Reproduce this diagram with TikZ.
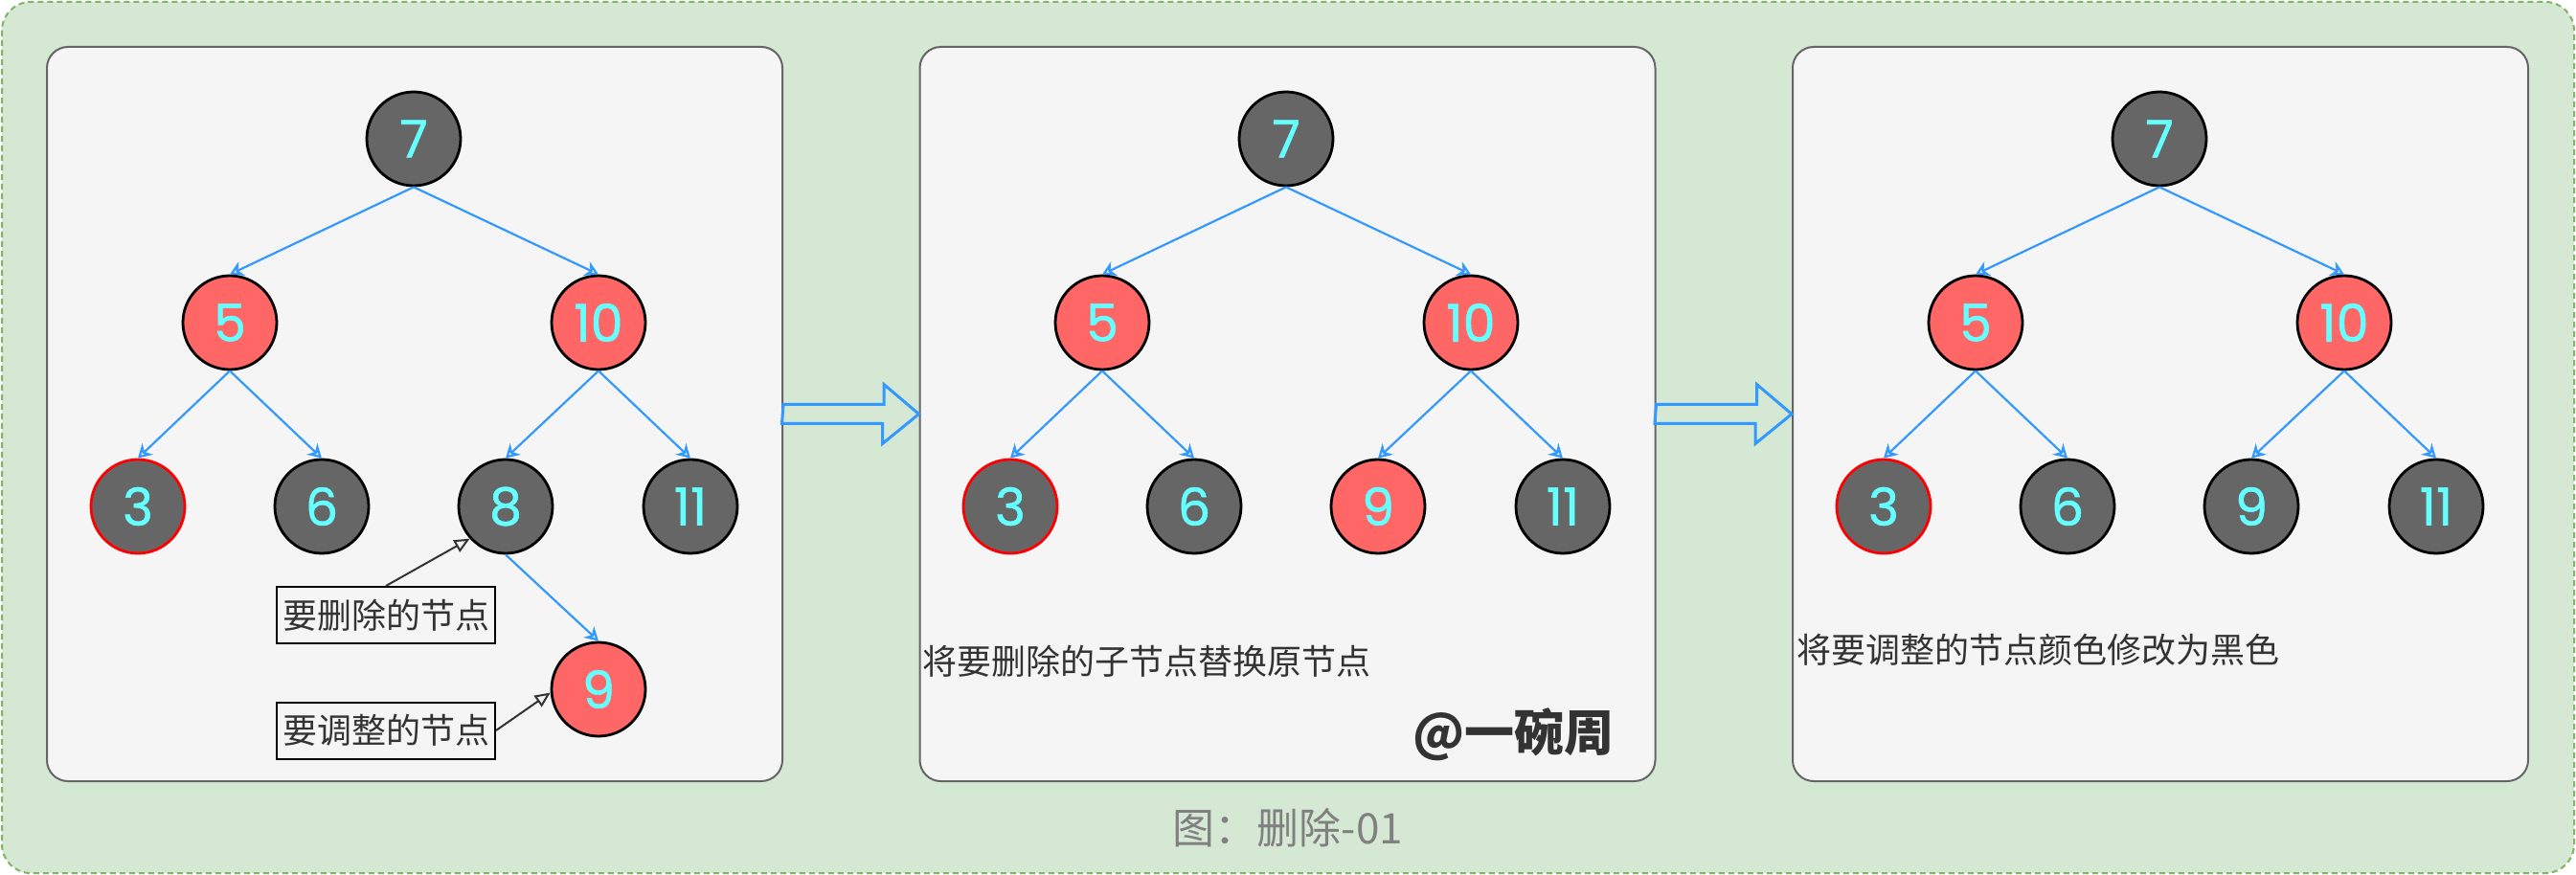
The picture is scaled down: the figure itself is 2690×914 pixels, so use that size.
\documentclass[tikz,border=0pt]{standalone}
\usepackage{fontspec}
\usepackage{tikz}
\usetikzlibrary{arrows.meta,calc}
\newfontfamily\cjk{Noto Sans CJK SC}
\newfontfamily\numfont{Poppins}[FakeBold=1]
\definecolor{BG}{RGB}{213, 232, 212}
\definecolor{BGline}{RGB}{130, 179, 102}
\definecolor{P}{RGB}{245, 245, 245}
\definecolor{Pline}{RGB}{102, 102, 102}
\definecolor{R}{RGB}{255, 102, 102}
\definecolor{K}{RGB}{102, 102, 102}
\definecolor{C}{RGB}{102, 255, 255}
\definecolor{B}{RGB}{51, 153, 255}
\definecolor{T}{RGB}{51, 51, 51}
\definecolor{Cap}{RGB}{128, 128, 128}
\tikzset{
  panel/.style={draw=Pline, line width=1pt, fill=P, rounded corners=11pt,
    minimum width=384pt, minimum height=383.5pt},
  rbblack/.style={circle, draw=black, line width=1.4pt, fill=K, minimum size=49pt,
    inner sep=0pt, text=C, font=\numfont\fontsize{27}{27}\selectfont},
  rbred/.style={rbblack, fill=R},
  tedge/.style={draw=B, line width=1.1pt, -{Stealth[open, length=7pt, width=8pt]}},
  note/.style={draw=black, line width=1pt, text=T, minimum width=114pt,
    minimum height=29.5pt, inner sep=0pt, font=\cjk\fontsize{18}{18}\selectfont},
  notearrow/.style={draw=T, line width=1pt, -{Triangle[open, length=8pt, width=7pt]}},
  bigarrow/.style={draw=B, line width=1.5pt, line join=miter},
  say/.style={text=T, inner sep=0pt, font=\cjk\fontsize{18}{18}\selectfont}
}
\begin{document}
\begin{tikzpicture}[x=0.5pt, y=-0.5pt]
  \useasboundingbox (0,0) rectangle (2690,914);
  \draw[BGline, fill=BG, line width=1pt, dash pattern=on 3pt off 2pt, rounded corners=15pt]
    (2,2) rectangle (2688,912);

  % three panels
  \node[panel] (pA) at (433,432.5) {};
  \node[panel] (pB) at (1344.5,432.5) {};
  \node[panel] (pC) at (2256,432.5) {};

  % panel A: delete 8
  \node[rbblack] (a7) at (432,145) {7};
  \node[rbred] (a5) at (240,337) {5};
  \node[rbred] (a10) at (625,337) {10};
  \node[rbblack, draw=red] (a3) at (144,529) {3};
  \node[rbblack] (a6) at (336,529) {6};
  \node[rbblack] (a8) at (528,529) {8};
  \node[rbblack] (a11) at (721,529) {11};
  \node[rbred] (a9) at (625,720) {9};
  \draw[tedge] (a7.south) -- (a5.north);
  \draw[tedge] (a7.south) -- (a10.north);
  \draw[tedge] (a5.south) -- (a3.north);
  \draw[tedge] (a5.south) -- (a6.north);
  \draw[tedge] (a10.south) -- (a8.north);
  \draw[tedge] (a10.south) -- (a11.north);
  \draw[tedge] (a8.south) -- (a9.north);
  \node[note] (del) at (403,642.5) {要删除的节点};
  \node[note] (fix) at (403,763) {要调整的节点};
  \draw[notearrow] (del.north) -- (a8.222);
  \draw[notearrow] (fix.east) -- (a9.184);

  % panel B: 9 takes the place of 8
  \node[rbblack] (b7) at (1343,145) {7};
  \node[rbred] (b5) at (1151,337) {5};
  \node[rbred] (b10) at (1536,337) {10};
  \node[rbblack, draw=red] (b3) at (1055,529) {3};
  \node[rbblack] (b6) at (1247,529) {6};
  \node[rbred] (b9) at (1439,529) {9};
  \node[rbblack] (b11) at (1632,529) {11};
  \draw[tedge] (b7.south) -- (b5.north);
  \draw[tedge] (b7.south) -- (b10.north);
  \draw[tedge] (b5.south) -- (b3.north);
  \draw[tedge] (b5.south) -- (b6.north);
  \draw[tedge] (b10.south) -- (b9.north);
  \draw[tedge] (b10.south) -- (b11.north);
  \node[say, anchor=west] (txtB) at (963,691) {将要删除的子节点替换原节点};
  \node[say, anchor=east, font=\cjk\bfseries\fontsize{26}{26}\selectfont] (sign) at (1686,767) {@一碗周};

  % panel C: 9 turns black
  \node[rbblack] (c7) at (2255,145) {7};
  \node[rbred] (c5) at (2063,337) {5};
  \node[rbred] (c10) at (2448,337) {10};
  \node[rbblack, draw=red] (c3) at (1967,529) {3};
  \node[rbblack] (c6) at (2159,529) {6};
  \node[rbblack] (c9) at (2351,529) {9};
  \node[rbblack] (c11) at (2544,529) {11};
  \draw[tedge] (c7.south) -- (c5.north);
  \draw[tedge] (c7.south) -- (c10.north);
  \draw[tedge] (c5.south) -- (c3.north);
  \draw[tedge] (c5.south) -- (c6.north);
  \draw[tedge] (c10.south) -- (c9.north);
  \draw[tedge] (c10.south) -- (c11.north);
  \node[say, anchor=west] (txtC) at (1876,679) {将要调整的节点颜色修改为黑色};

  % block arrows between panels
  \draw[bigarrow] ($(pA.east)+(0,-10)$) -- ++(105,0) -- ++(0,-21) -- (pB.west)
    -- ++(-38,31) -- ++(0,-21) -- ++(-105,0) -- cycle;
  \draw[bigarrow] ($(pB.east)+(0,-10)$) -- ++(105,0) -- ++(0,-21) -- (pC.west)
    -- ++(-38,31) -- ++(0,-21) -- ++(-105,0) -- cycle;

  \node[text=Cap, font=\cjk\fontsize{22}{22}\selectfont] (cap) at (1345,865) {图：删除-01};
\end{tikzpicture}
\end{document}
